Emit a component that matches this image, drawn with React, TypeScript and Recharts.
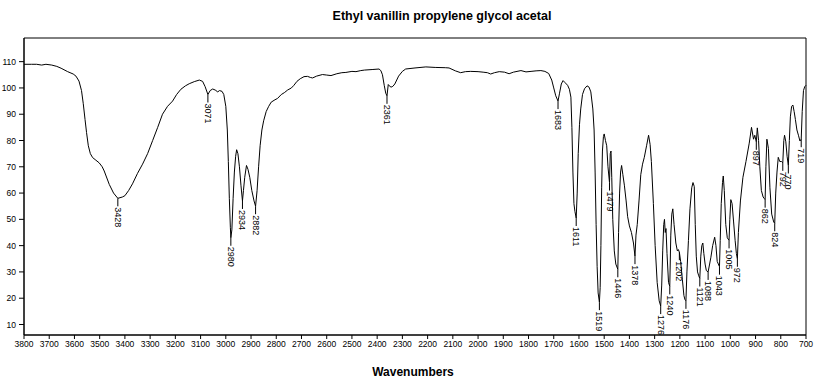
import { ComposedChart, Line, Scatter, XAxis, YAxis, ReferenceArea } from 'recharts'

// IR spectrum (wavenumber in cm-1, %T)
const wavenumbers = [
  3800, 3770, 3750, 3730, 3713, 3690, 3670, 3653, 3627, 3605, 3594, 3582, 3572, 3565, 3558, 3552, 3545, 3537, 3528, 3515,
  3502, 3490, 3482, 3462, 3445, 3428, 3410, 3400, 3385, 3370, 3350, 3330, 3310, 3290, 3270, 3251, 3231, 3211, 3195, 3178,
  3160, 3145, 3125, 3105, 3092, 3082, 3071, 3062, 3052, 3042, 3032, 3025, 3015, 3008, 3000, 2994, 2990, 2986, 2982, 2980,
  2976, 2971, 2966, 2961, 2957, 2952, 2946, 2940, 2934, 2930, 2925, 2918, 2912, 2905, 2897, 2888, 2882, 2876, 2870, 2864,
  2857, 2850, 2840, 2830, 2820, 2805, 2795, 2780, 2768, 2755, 2740, 2730, 2718, 2705, 2690, 2676, 2665, 2656, 2640, 2617,
  2600, 2583, 2560, 2540, 2524, 2500, 2484, 2465, 2450, 2420, 2392, 2385, 2379, 2372, 2366, 2361, 2356, 2352, 2345, 2338,
  2330, 2315, 2300, 2287, 2250, 2207, 2170, 2130, 2115, 2090, 2069, 2050, 2029, 2000, 1980, 1963, 1950, 1935, 1916, 1895,
  1877, 1860, 1830, 1810, 1790, 1770, 1751, 1735, 1720, 1708, 1700, 1692, 1683, 1677, 1670, 1663, 1655, 1645, 1638, 1632,
  1628, 1624, 1620, 1616, 1611, 1607, 1603, 1598, 1593, 1586, 1578, 1568, 1560, 1553, 1545, 1540, 1536, 1532, 1528, 1524,
  1519, 1516, 1513, 1510, 1507, 1503, 1500, 1495, 1490, 1485, 1479, 1476, 1473, 1470, 1466, 1460, 1454, 1446, 1443, 1439,
  1435, 1431, 1426, 1420, 1413, 1407, 1400, 1392, 1384, 1378, 1374, 1369, 1362, 1355, 1348, 1341, 1332, 1324, 1318, 1313,
  1305, 1298, 1290, 1282, 1276, 1272, 1268, 1264, 1261, 1258, 1255, 1251, 1245, 1240, 1236, 1232, 1228, 1223, 1216, 1210,
  1206, 1202, 1197, 1190, 1184, 1180, 1176, 1172, 1166, 1160, 1153, 1148, 1143, 1139, 1135, 1130, 1125, 1121, 1117, 1113,
  1109, 1105, 1100, 1095, 1088, 1082, 1077, 1070, 1062, 1057, 1052, 1043, 1040, 1036, 1031, 1028, 1024, 1018, 1012, 1005,
  1002, 998, 993, 987, 981, 976, 972, 968, 960, 950, 938, 925, 916, 908, 903, 897, 893, 888, 883, 877,
  870, 866, 862, 859, 855, 849, 843, 836, 828, 824, 820, 815, 810, 804, 797, 792, 788, 785, 780, 775,
  770, 766, 762, 757, 752, 747, 742, 736, 730, 724, 719, 715, 710, 705, 700,
]

const transmittance = [
  109, 109, 109, 108.7, 109, 108.7, 108.2, 107.5, 106.2, 105.3, 104.5, 102.6, 99, 94, 88, 83, 78, 75, 73.5, 72.5,
  71.5, 70, 68.4, 63.3, 60, 58, 58.5, 59, 61, 63.5, 67.5, 71, 75, 80, 85, 90, 93, 95, 97.5, 99.5,
  100.8, 101.6, 102.4, 103, 102.5, 100.5, 97.5, 99, 99.6, 99.2, 98.5, 99, 98.7, 97.5, 93, 84, 72, 58, 47, 43,
  46, 58, 68, 74, 76.5, 75, 70, 63, 57, 61, 66, 70.5, 69, 66, 61, 57, 55, 61, 70, 78,
  84, 87.5, 91, 93, 94.6, 95.5, 96, 97.5, 98.2, 99.2, 100, 101, 102.5, 103.5, 104.3, 104.4, 104, 103.8, 104.5, 105.1,
  104.9, 104.7, 105.4, 105.8, 105.9, 106.3, 106.2, 106.6, 106.8, 107, 107.2, 106.5, 105, 101, 98, 97, 101.3, 100.8, 100.3, 100.6,
  101.5, 104.5, 106.3, 107.2, 107.6, 108, 107.8, 107.7, 107.6, 106.5, 105.8, 106.2, 106.3, 106.2, 106, 105.8, 105.3, 105.8, 106.2, 106,
  105.4, 106, 106.6, 106.1, 106.3, 106.5, 106.6, 106.3, 105.5, 103, 100, 97, 95, 98, 101.5, 102.8, 102, 101, 99.5, 96.5,
  85, 68, 56, 53, 50.5, 60, 75, 86, 92, 97.5, 99.7, 100.8, 100.3, 98.5, 92, 84, 68, 48, 32, 22,
  18.5, 24, 40, 62, 76, 81.5, 82.5, 80, 78, 70, 64, 75, 76, 66, 50, 38, 33, 31, 45, 60,
  68, 70.5, 67, 63, 57, 51, 47.5, 45, 41, 36, 44, 48, 57, 67, 71, 73.6, 78, 82, 78.5, 72,
  56, 40, 26, 19, 17, 25, 38, 48, 50, 45, 46.5, 37, 26, 24.5, 44, 52, 54, 48, 41, 38,
  38.5, 37.5, 34, 27, 21, 19.5, 19, 30, 42, 54, 62, 64, 62.5, 48, 36, 30, 28.5, 27.5, 36, 40,
  41, 37, 33, 30.5, 30, 33, 35.6, 40, 43.2, 40, 34, 32, 42, 56, 64, 66.5, 61, 48, 43, 42,
  50, 57.5, 56, 49, 42, 37, 35, 45, 57, 66, 72, 79, 85, 80.5, 82, 79.5, 84.8, 80, 70, 61,
  58.5, 58, 57.5, 70, 80.5, 77, 62, 52, 49, 48.5, 60, 68, 73.6, 72, 72, 71.5, 80, 82, 79.5, 74,
  70.5, 80, 89, 93, 93.5, 91, 88, 84, 82, 79.8, 80.5, 91, 99, 100.5, 101,
]

// labelled absorption bands
const peakLabels = [
  3428, 3071, 2980, 2934, 2882, 2361, 1683, 1611, 1519, 1479, 1446, 1378, 1276, 1240, 1202, 1176, 1121, 1088, 1043, 1005,
  972, 897, 862, 824, 792, 770, 719,
]

const xTicks = [
  3800, 3700, 3600, 3500, 3400, 3300, 3200, 3100, 3000, 2900, 2800, 2700, 2600, 2500, 2400, 2300, 2200, 2100, 2000, 1900,
  1800, 1700, 1600, 1500, 1400, 1300, 1200, 1100, 1000, 900, 800, 700,
]
const yTicks = [10, 20, 30, 40, 50, 60, 70, 80, 90, 100, 110]

const spectrum = wavenumbers.map((wn, i) => ({ wn, t: transmittance[i] }))

const peaks = peakLabels.map((wn) => {
  let best = spectrum[0]
  for (const p of spectrum) if (Math.abs(p.wn - wn) < Math.abs(best.wn - wn)) best = p
  return { wn, t: best.t, label: String(wn) }
})

const smallFont = '"Liberation Sans Narrow", "Arial Narrow", "Liberation Sans", Arial, sans-serif'
const boldFont = '"Liberation Sans", Arial, sans-serif'

function PeakMark(props: any) {
  const { cx, cy, payload } = props
  if (cx == null || cy == null) return null
  const y0 = cy + 9
  return (
    <g>
      <line x1={cx} y1={cy} x2={cx} y2={cy + 8} stroke="#000" strokeWidth={1} />
      <text
        x={cx}
        y={y0}
        transform={`rotate(90, ${cx}, ${y0})`}
        dominantBaseline="central"
        textAnchor="start"
        fontSize={9}
        fontFamily={smallFont}
        fill="#000"
      >
        {payload.label}
      </text>
    </g>
  )
}

export default function App() {
  return (
    <div style={{ position: 'absolute', left: 0, top: 0, width: 825, height: 387, background: '#fff' }}>
      <div
        style={{
          position: 'absolute',
          left: 442,
          top: 10,
          transform: 'translateX(-50%)',
          whiteSpace: 'nowrap',
          fontFamily: boldFont,
          fontWeight: 'bold',
          fontSize: 12.5,
          lineHeight: '12px',
        }}
      >
        Ethyl vanillin propylene glycol acetal
      </div>
      <ComposedChart width={825} height={387} margin={{ top: 38, right: 19, bottom: 0, left: 0 }}>
        <XAxis
          type="number"
          dataKey="wn"
          domain={[700, 3800]}
          reversed
          ticks={xTicks}
          interval={0}
          height={52}
          tickSize={4}
          tickMargin={2}
          stroke="#000"
          tick={{ fill: '#000', fontSize: 8.5, fontFamily: smallFont }}
        />
        <YAxis
          type="number"
          domain={[6, 119]}
          ticks={yTicks}
          interval={0}
          width={24}
          tickSize={5}
          tickMargin={3}
          stroke="#000"
          tick={{ fill: '#000', fontSize: 8.5, fontFamily: smallFont }}
        />
        <ReferenceArea x1={700} x2={3800} y1={6} y2={119} fill="none" stroke="#000" strokeWidth={1} />
        <Line
          data={spectrum}
          dataKey="t"
          type="linear"
          stroke="#000"
          strokeWidth={1}
          dot={false}
          isAnimationActive={false}
        />
        <Scatter data={peaks} dataKey="t" shape={PeakMark} isAnimationActive={false} />
      </ComposedChart>
      <div
        style={{
          position: 'absolute',
          left: 413,
          top: 366,
          transform: 'translateX(-50%)',
          whiteSpace: 'nowrap',
          fontFamily: boldFont,
          fontWeight: 'bold',
          fontSize: 12,
          lineHeight: '12px',
        }}
      >
        Wavenumbers
      </div>
    </div>
  )
}
